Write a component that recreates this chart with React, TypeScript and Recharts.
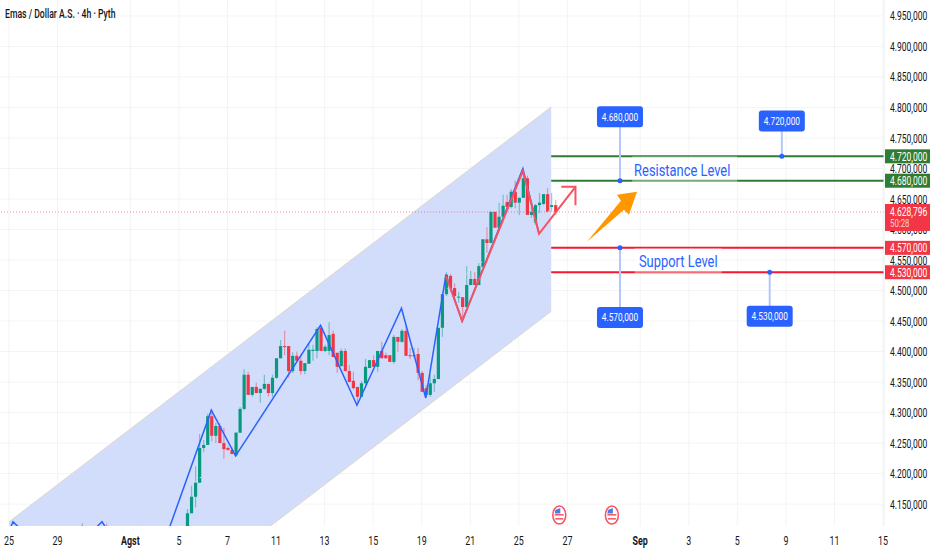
import {
    Area,
    Bar,
    CartesianGrid,
    ComposedChart,
    Line,
    ReferenceDot,
    ReferenceLine,
    XAxis,
    YAxis,
} from 'recharts';

// 4h bars, counted from the left edge of the time scale
const bars = [
    20, 26, 46, 47, 48, 49, 50, 51, 52, 53, 54, 55, 56, 57, 58, 59, 60, 61, 62, 63, 64, 65, 66, 67, 68, 69, 70, 71,
    72, 73, 74, 75, 76, 77, 78, 79, 80, 81, 82, 83, 84, 85, 86, 87, 88, 89, 90, 91, 92, 93, 94, 95, 96, 97, 98, 99,
    100, 101, 102, 103, 104, 105, 106, 107, 108, 109, 110, 111, 112, 113, 114, 115, 116, 117, 118, 119, 120, 121,
    122, 123, 124, 125, 126, 127, 128, 129, 130, 131, 132, 133, 134, 135, 136, 137,
];
const opens = [
    4090, 4110, 4108, 4135, 4162, 4185, 4242, 4247, 4294, 4262, 4278, 4250, 4242, 4239, 4230, 4267, 4306, 4362, 4329,
    4342, 4332, 4339, 4347, 4332, 4357, 4389, 4409, 4409, 4368, 4393, 4385, 4368, 4380, 4401, 4401, 4439, 4401, 4401,
    4429, 4398, 4376, 4401, 4368, 4352, 4342, 4326, 4348, 4373, 4386, 4375, 4401, 4394, 4394, 4383, 4424, 4416, 4434,
    4394, 4393, 4396, 4365, 4340, 4329, 4348, 4355, 4439, 4494, 4524, 4504, 4489, 4489, 4473, 4509, 4519, 4509, 4539,
    4584, 4578, 4629, 4603, 4621, 4645, 4637, 4662, 4644, 4652, 4684, 4624, 4611, 4640, 4642, 4658, 4637, 4640,
];
const highs = [
    4118, 4118, 4142, 4180, 4212, 4265, 4255, 4298, 4304, 4283, 4283, 4275, 4245, 4243, 4268, 4309, 4371, 4367, 4342,
    4349, 4339, 4362, 4347, 4362, 4389, 4419, 4434, 4409, 4399, 4400, 4395, 4381, 4412, 4411, 4440, 4442, 4411, 4448,
    4434, 4398, 4405, 4405, 4378, 4367, 4342, 4352, 4388, 4386, 4394, 4401, 4416, 4398, 4394, 4427, 4424, 4437, 4442,
    4406, 4406, 4406, 4368, 4345, 4362, 4362, 4439, 4494, 4530, 4527, 4512, 4498, 4489, 4540, 4532, 4530, 4545, 4584,
    4604, 4629, 4629, 4644, 4657, 4657, 4666, 4680, 4652, 4698, 4688, 4645, 4642, 4660, 4658, 4668, 4660, 4648,
];
const lows = [
    4085, 4085, 4099, 4135, 4145, 4185, 4235, 4247, 4253, 4250, 4250, 4224, 4237, 4232, 4227, 4267, 4304, 4329, 4326,
    4332, 4316, 4337, 4326, 4326, 4355, 4389, 4394, 4357, 4365, 4385, 4362, 4363, 4380, 4385, 4389, 4401, 4399, 4394,
    4391, 4365, 4376, 4368, 4350, 4338, 4312, 4326, 4340, 4373, 4375, 4367, 4389, 4389, 4383, 4380, 4399, 4414, 4393,
    4388, 4390, 4353, 4334, 4324, 4326, 4334, 4355, 4424, 4491, 4498, 4485, 4480, 4455, 4473, 4509, 4509, 4509, 4539,
    4562, 4578, 4603, 4600, 4616, 4637, 4635, 4635, 4624, 4652, 4624, 4619, 4608, 4627, 4640, 4629, 4629, 4624,
];
const closes = [
    4105, 4095, 4135, 4162, 4185, 4242, 4247, 4294, 4262, 4278, 4250, 4240, 4239, 4232, 4267, 4306, 4362, 4329, 4342,
    4332, 4339, 4347, 4332, 4357, 4389, 4409, 4408, 4368, 4393, 4385, 4368, 4381, 4403, 4403, 4437, 4401, 4408, 4427,
    4391, 4375, 4401, 4368, 4350, 4340, 4326, 4348, 4375, 4386, 4375, 4401, 4389, 4389, 4383, 4424, 4416, 4434, 4393,
    4393, 4394, 4365, 4334, 4329, 4348, 4355, 4439, 4494, 4526, 4504, 4491, 4490, 4473, 4509, 4519, 4509, 4540, 4584,
    4578, 4629, 4603, 4621, 4639, 4637, 4662, 4644, 4652, 4684, 4624, 4629, 4640, 4644, 4658, 4629, 4640, 4628.796,
];

const xTicks = [2, 14, 32, 44, 56, 68, 80, 92, 104, 116, 128, 140, 158, 170, 182, 194, 206, 218];
const xLabels = ['25', '29', 'Agst', '5', '7', '11', '13', '15', '19', '21', '25', '27', 'Sep', '3', '5', '9', '11', '15'];
const monthLabels = ['Agst', 'Sep'];

const priceTicks = [
    4150, 4200, 4250, 4300, 4350, 4400, 4450, 4500, 4550, 4600, 4650, 4700, 4750, 4800, 4850, 4900, 4950,
];
const lastPrice = 4628.796;
const resistanceLevels = [4720, 4680];
const supportLevels = [4570, 4530];

const channelBars = [2, 136];
const channelTop = [4121, 4801];
const channelBottom = [3786, 4466];

const zigzagBars = [0, 3, 14, 25, 36, 52, 58, 79, 88, 99, 105, 110, 114, 129, 133];
const zigzagPrices = [4075, 4121, 4050, 4121, 4006, 4304, 4229, 4443, 4312, 4471, 4324, 4526, 4450, 4700, 4593];

const swingBars = [110, 114, 129, 133, 142];
const swingPrices = [4524, 4450, 4696, 4593, 4670];
const swingHeadBars = [138.5, 142, 142];
const swingHeadPrices = [4670, 4670, 4640];

const calloutBars = [153, 193, 153, 190];
const calloutPrices = [4680, 4720, 4570, 4530];
const calloutLabelPrices = [4785, 4778, 4456, 4458];

const flagBars = [138, 151];

const candleData = bars.map((bar, i) => ({
    bar,
    open: opens[i],
    high: highs[i],
    low: lows[i],
    close: closes[i],
}));
const channelData = channelBars.map((bar, i) => ({
    bar,
    top: channelTop[i],
    bottom: channelBottom[i],
    mid: (channelTop[i] + channelBottom[i]) / 2,
}));
const zigzagData = zigzagBars.map((bar, i) => ({ bar, price: zigzagPrices[i] }));
const swingData = swingBars.map((bar, i) => ({ bar, price: swingPrices[i] }));
const swingHeadData = swingHeadBars.map((bar, i) => ({ bar, price: swingHeadPrices[i] }));

const levelData = (price: number) => [
    { bar: 136, price },
    { bar: 218.25, price },
];

const UP = '#089981';
const DOWN = '#f23645';
const BLUE = '#2962ff';
const GREEN_LEVEL = '#2e7d32';
const RED_LEVEL = '#f7172f';
const FONT = 'Roboto, sans-serif';
// the reference's labels are set much narrower than Roboto
const NARROW = 0.71;

const formatPrice = (value: number): string => {
    const fixed = value.toFixed(3);
    const [whole, part] = fixed.split('.');
    return `${whole.slice(0, -3)}.${whole.slice(-3)},${part}`;
};

const NarrowText = ({ x, y, scale = NARROW, children, ...rest }: any) => (
    <text transform={`translate(${x} ${y}) scale(${scale} 1)`} fontFamily={FONT} {...rest}>
        {children}
    </text>
);

const Candle = (props: any) => {
    const { x, y, width, height, payload } = props;
    const { open, high, low, close } = payload;
    const perUnit = height / (high - low);
    const color = close >= open ? UP : DOWN;
    const top = y + (high - Math.max(open, close)) * perUnit;
    const bodyHeight = Math.max(Math.abs(open - close) * perUnit, 1);
    const cx = x + width / 2;
    return (
        <g>
            <line x1={cx} x2={cx} y1={y} y2={y + height} stroke={color} strokeOpacity={0.45} strokeWidth={1.2} />
            <rect x={cx - 1.6} y={top} width={3.2} height={bodyHeight} fill={color} />
        </g>
    );
};

const PriceTick = (props: any) => {
    const { x, y, payload } = props;
    const value = payload.value;
    const left = x - 5;
    if (value === lastPrice) {
        return (
            <g>
                <rect x={left} y={y - 8} width={45} height={27} fill={DOWN} />
                <NarrowText x={x} y={y + 4.5} fontSize={12} fill="#fff">
                    {formatPrice(value)}
                </NarrowText>
                <NarrowText x={x} y={y + 15.5} fontSize={11} fill="#fff" fillOpacity={0.75}>
                    50:28
                </NarrowText>
            </g>
        );
    }
    if (resistanceLevels.includes(value) || supportLevels.includes(value)) {
        return (
            <g>
                <rect x={left} y={y - 7} width={45} height={14} fill={resistanceLevels.includes(value) ? GREEN_LEVEL : DOWN} />
                <NarrowText x={x} y={y + 4.5} fontSize={12} fill="#fff">
                    {formatPrice(value)}
                </NarrowText>
            </g>
        );
    }
    return (
        <NarrowText x={x} y={y + 4.5} fontSize={12} fill="#131722">
            {formatPrice(value)}
        </NarrowText>
    );
};

const TimeTick = (props: any) => {
    const { x, y, index } = props;
    const label = xLabels[index];
    return (
        <NarrowText
            x={x}
            y={y + 11}
            textAnchor="middle"
            fontSize={12.5}
            fontWeight={monthLabels.includes(label) ? 700 : 400}
            fill="#131722"
        >
            {label}
        </NarrowText>
    );
};

const CalloutLabel = (props: any) => {
    const { cx, cy, text } = props;
    return (
        <g>
            <rect x={cx - 23} y={cy - 10.5} width={46} height={21} rx={3} fill={BLUE} />
            <NarrowText x={cx} y={cy + 4} scale={0.72} textAnchor="middle" fontSize={11.5} fill="#fff">
                {text}
            </NarrowText>
        </g>
    );
};

const Note = (props: any) => {
    const { cx, cy, text, boxWidth, boxHeight, textShift } = props;
    return (
        <g>
            <rect x={cx - boxWidth / 2} y={cy - boxHeight / 2} width={boxWidth} height={boxHeight} fill="#fff" fillOpacity={0.35} />
            <NarrowText x={cx + textShift} y={cy + 6.5} scale={0.76} textAnchor="middle" fontSize={17} fill={BLUE}>
                {text}
            </NarrowText>
        </g>
    );
};

const OrangeArrow = (props: any) => {
    const { cx, cy } = props;
    return (
        <path
            d={`M${cx} ${cy} L${cx - 8} ${cy + 23} L${cx - 13} ${cy + 18} L${cx - 50} ${cy + 50} L${cx - 16} ${cy + 9} L${cx - 20} ${cy + 3} Z`}
            fill="#ff9800"
        />
    );
};

const FlagIcon = (props: any) => {
    const { cx, cy } = props;
    return (
        <g>
            <ellipse cx={cx} cy={cy} rx={6.5} ry={9} fill="#fff" stroke="#f7525f" strokeWidth={1.5} />
            <rect x={cx - 4.5} y={cy - 1} width={9} height={1.5} fill="#f7525f" />
            <rect x={cx - 4} y={cy + 3} width={8} height={1.5} fill="#f7525f" />
            <path d={`M${cx - 4.5} ${cy - 1.5} L${cx - 4} ${cy - 5} L${cx + 1} ${cy - 7} L${cx + 1} ${cy - 1.5} Z`} fill="#4a7de8" />
        </g>
    );
};

const App = (): JSX.Element => (
    <div style={{ position: 'absolute', left: 0, top: 0, width: 932, height: 550, background: '#fff' }}>
        <ComposedChart width={932} height={550} data={candleData} margin={{ top: 0, right: 0, left: 0, bottom: 0 }}>
            <CartesianGrid stroke="#f3f4f6" horizontalValues={priceTicks} verticalValues={xTicks} />
            <XAxis
                dataKey="bar"
                type="number"
                domain={[-0.22, 218.25]}
                allowDataOverflow
                ticks={xTicks}
                interval={0}
                height={24}
                tick={<TimeTick />}
                tickLine={false}
                axisLine={false}
            />
            <YAxis
                orientation="right"
                type="number"
                domain={[4114.1, 4976.2]}
                allowDataOverflow
                ticks={[...priceTicks, ...resistanceLevels, ...supportLevels, lastPrice]}
                interval={0}
                width={48}
                tick={<PriceTick />}
                tickLine={false}
                tickSize={0}
                tickMargin={6}
                axisLine={{ stroke: '#eceef2' }}
            />
            <Area
                data={channelData}
                dataKey={(d: any) => [d.bottom, d.top]}
                stroke="none"
                fill="#d1ddfb"
                fillOpacity={1}
                isAnimationActive={false}
            />
            <Line data={channelData} dataKey="top" stroke="#ddd8d0" strokeWidth={1} dot={false} isAnimationActive={false} />
            <Line data={channelData} dataKey="bottom" stroke="#ddd8d0" strokeWidth={1} dot={false} isAnimationActive={false} />
            <Line data={channelData} dataKey="mid" stroke="#e3d9cf" strokeWidth={1} strokeDasharray="2 4" dot={false} isAnimationActive={false} />
            <ReferenceLine y={lastPrice} stroke={DOWN} strokeOpacity={0.55} strokeDasharray="1 2" />
            <Bar
                dataKey={(d: any) => [d.low, d.high]}
                barSize={3}
                shape={<Candle />}
                isAnimationActive={false}
            />
            <Line data={zigzagData} dataKey="price" stroke={BLUE} strokeWidth={1.5} dot={false} isAnimationActive={false} />
            <Line data={swingData} dataKey="price" stroke="#f7525f" strokeWidth={2} dot={false} isAnimationActive={false} />
            <Line data={swingHeadData} dataKey="price" stroke="#f7525f" strokeWidth={2} dot={false} isAnimationActive={false} />
            {resistanceLevels.map((level) => (
                <Line key={level} data={levelData(level)} dataKey="price" stroke={GREEN_LEVEL} strokeWidth={2} dot={false} isAnimationActive={false} />
            ))}
            {supportLevels.map((level) => (
                <Line key={level} data={levelData(level)} dataKey="price" stroke={RED_LEVEL} strokeWidth={2} dot={false} isAnimationActive={false} />
            ))}
            {calloutBars.map((bar, i) => (
                <Line
                    key={`stem-${i}`}
                    data={[
                        { bar, price: calloutPrices[i] },
                        { bar, price: calloutLabelPrices[i] },
                    ]}
                    dataKey="price"
                    stroke="#b3c7fb"
                    strokeWidth={2}
                    dot={false}
                    isAnimationActive={false}
                />
            ))}
            <ReferenceDot x={169} y={4698} r={0} shape={<Note text="Resistance Level" boxWidth={105} boxHeight={27} textShift={-2.5} />} />
            <ReferenceDot x={167.4} y={4549} r={0} shape={<Note text="Support Level" boxWidth={87} boxHeight={25} textShift={0} />} />
            {calloutBars.map((bar, i) => (
                <ReferenceDot key={`dot-${i}`} x={bar} y={calloutPrices[i]} r={2.5} fill={BLUE} stroke="none" />
            ))}
            {calloutBars.map((bar, i) => (
                <ReferenceDot
                    key={`label-${i}`}
                    x={bar}
                    y={calloutLabelPrices[i]}
                    r={0}
                    shape={<CalloutLabel text={formatPrice(calloutPrices[i])} />}
                />
            ))}
            <ReferenceDot x={157.2} y={4662} r={0} shape={<OrangeArrow />} />
            {flagBars.map((bar) => (
                <ReferenceDot key={bar} x={bar} y={4132} r={0} shape={<FlagIcon />} />
            ))}
        </ComposedChart>
        <div
            style={{
                position: 'absolute',
                left: 5,
                top: 6,
                fontFamily: FONT,
                fontSize: 13,
                fontWeight: 500,
                color: '#131722',
                whiteSpace: 'nowrap',
                transform: 'scaleX(0.665)',
                transformOrigin: 'left center',
            }}
        >
            Emas / Dollar A.S. · 4h · Pyth
        </div>
    </div>
);

export default App;
